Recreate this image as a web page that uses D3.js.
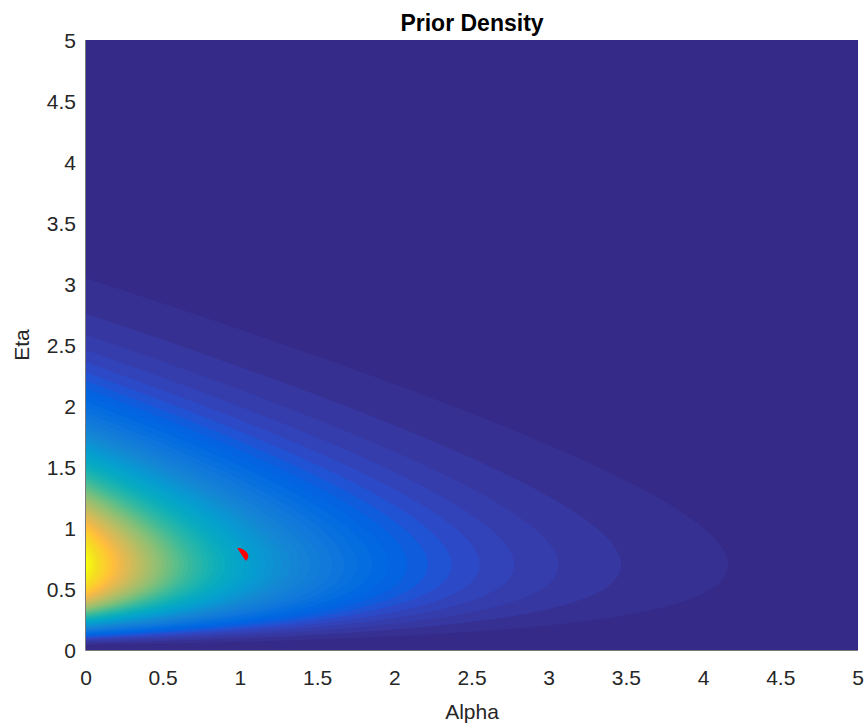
<!DOCTYPE html>
<html><head><meta charset="utf-8">
<script src="https://cdn.jsdelivr.net/npm/d3@7"></script>
<style>
body{margin:0;background:#fff}
text{font-family:"Liberation Sans",Arial,Helvetica,sans-serif;fill:#262626}
</style>
</head><body>
<svg id="chart" width="864" height="728"></svg>
<script>
// ---------------- data ----------------
const alphaDomain = [0, 5];
const etaDomain = [0, 5];
const xTickValues = [0, 0.5, 1, 1.5, 2, 2.5, 3, 3.5, 4, 4.5, 5];
const xTickLabels = ["0", "0.5", "1", "1.5", "2", "2.5", "3", "3.5", "4", "4.5", "5"];
const yTickValues = [0, 0.5, 1, 1.5, 2, 2.5, 3, 3.5, 4, 4.5, 5];
const yTickLabels = ["0", "0.5", "1", "1.5", "2", "2.5", "3", "3.5", "4", "4.5", "5"];
// prior: alpha ~ Exponential(rate), eta ~ Gamma(shape, rate)
const alphaPriorRate = [1];
const etaPriorShapeRate = [3.2, 3.15];
const contourLevelCount = [64];
// red marker outline (alpha, eta)
const markerAlpha = [0.981, 1.004, 1.027, 1.043, 1.051, 1.048, 1.036, 1.020, 1.001];
const markerEta   = [0.834, 0.832, 0.817, 0.797, 0.775, 0.752, 0.731, 0.758, 0.795];
const titleText = "Prior Density";
const xLabelText = "Alpha";
const yLabelText = "Eta";

// parula colormap (64)
const parula = [
[0.2081,0.1663,0.5292],[0.2116,0.1898,0.5777],[0.2123,0.2138,0.6270],[0.2081,0.2386,0.6771],
[0.1959,0.2645,0.7279],[0.1707,0.2919,0.7792],[0.1253,0.3242,0.8303],[0.0591,0.3598,0.8683],
[0.0117,0.3875,0.8820],[0.0060,0.4086,0.8828],[0.0165,0.4266,0.8786],[0.0329,0.4430,0.8720],
[0.0498,0.4586,0.8641],[0.0629,0.4737,0.8554],[0.0723,0.4887,0.8467],[0.0779,0.5040,0.8384],
[0.0793,0.5200,0.8312],[0.0749,0.5375,0.8263],[0.0641,0.5570,0.8240],[0.0488,0.5772,0.8228],
[0.0343,0.5966,0.8199],[0.0265,0.6137,0.8135],[0.0239,0.6287,0.8038],[0.0231,0.6418,0.7913],
[0.0228,0.6535,0.7768],[0.0267,0.6642,0.7607],[0.0384,0.6743,0.7436],[0.0590,0.6838,0.7254],
[0.0843,0.6928,0.7062],[0.1133,0.7015,0.6859],[0.1453,0.7098,0.6646],[0.1801,0.7177,0.6424],
[0.2178,0.7250,0.6193],[0.2586,0.7317,0.5954],[0.3022,0.7376,0.5712],[0.3482,0.7424,0.5473],
[0.3953,0.7459,0.5244],[0.4420,0.7481,0.5033],[0.4871,0.7491,0.4840],[0.5300,0.7491,0.4661],
[0.5709,0.7485,0.4494],[0.6099,0.7473,0.4337],[0.6473,0.7456,0.4188],[0.6834,0.7435,0.4044],
[0.7184,0.7411,0.3905],[0.7525,0.7384,0.3768],[0.7858,0.7356,0.3633],[0.8185,0.7327,0.3498],
[0.8507,0.7299,0.3360],[0.8824,0.7274,0.3217],[0.9139,0.7258,0.3063],[0.9450,0.7261,0.2886],
[0.9739,0.7314,0.2666],[0.9938,0.7455,0.2403],[0.9990,0.7653,0.2164],[0.9955,0.7861,0.1967],
[0.9880,0.8066,0.1794],[0.9789,0.8271,0.1633],[0.9697,0.8481,0.1475],[0.9626,0.8705,0.1309],
[0.9589,0.8949,0.1132],[0.9598,0.9218,0.0948],[0.9661,0.9514,0.0755],[0.9763,0.9831,0.0538]
].map(c => d3.rgb(c[0]*255, c[1]*255, c[2]*255).formatHex());

// ---------------- layout ----------------
const svg = d3.select("#chart");
const plotLeft = 86, plotRight = 858, plotTop = 40, plotBottom = 650;
const x = d3.scaleLinear().domain(alphaDomain).range([plotLeft, plotRight]);
const y = d3.scaleLinear().domain(etaDomain).range([plotBottom, plotTop]);

// density grid
const n = 400, m = 400;
const [gShape, gRate] = etaPriorShapeRate;
const lam = alphaPriorRate[0];
function dens(a, e) {
  if (e <= 0) return 0;
  return Math.exp(-lam * a) * Math.exp((gShape - 1) * Math.log(e) - gRate * e);
}
const values = new Float64Array(n * m);
for (let j = 0; j < m; j++) {
  const e = etaDomain[0] + (j + 0.5) / m * (etaDomain[1] - etaDomain[0]);
  for (let i = 0; i < n; i++) {
    const a = alphaDomain[0] + (i + 0.5) / n * (alphaDomain[1] - alphaDomain[0]);
    values[j * n + i] = dens(a, e);
  }
}
const zMax = dens(0, (gShape - 1) / gRate);
const L = contourLevelCount[0];
const thresholds = d3.range(1, L).map(i => zMax * i / L);
const contours = d3.contours().size([n, m]).thresholds(thresholds)(Array.from(values));

const proj = d3.geoTransform({
  point(px, py) {
    this.stream.point(
      x(alphaDomain[0] + px / n * (alphaDomain[1] - alphaDomain[0])),
      y(etaDomain[0] + py / m * (etaDomain[1] - etaDomain[0])));
  }
});
const path = d3.geoPath(proj);

svg.append("defs").append("clipPath").attr("id", "clip")
  .append("rect").attr("x", plotLeft).attr("y", plotTop)
  .attr("width", plotRight - plotLeft).attr("height", plotBottom - plotTop);

const g = svg.append("g").attr("clip-path", "url(#clip)");
g.append("rect").attr("x", plotLeft).attr("y", plotTop)
  .attr("width", plotRight - plotLeft).attr("height", plotBottom - plotTop)
  .attr("fill", parula[0]);
g.selectAll("path.band").data(contours).join("path")
  .attr("class", "band")
  .attr("d", path)
  .attr("fill", (d, i) => parula[Math.min(i + 1, parula.length - 1)]);

// marker
const markerPts = markerAlpha.map((a, i) => [x(a), y(markerEta[i])]);
g.append("path")
  .attr("d", d3.line().curve(d3.curveCardinalClosed.tension(0.5))(markerPts))
  .attr("fill", "#ff0000");

// axis edges
svg.append("line").attr("x1", plotLeft - 0.5).attr("x2", plotLeft - 0.5)
  .attr("y1", plotTop).attr("y2", plotBottom + 0.5).attr("stroke", "#7a7a7a").attr("stroke-width", 1);
svg.append("line").attr("x1", plotLeft - 0.5).attr("x2", plotRight)
  .attr("y1", plotBottom + 0.5).attr("y2", plotBottom + 0.5).attr("stroke", "#7a7a7a").attr("stroke-width", 1);

// tick labels
svg.append("g").selectAll("text").data(xTickValues).join("text")
  .attr("x", d => x(d)).attr("y", 685)
  .attr("text-anchor", "middle").attr("font-size", 21)
  .text((d, i) => xTickLabels[i]);
svg.append("g").selectAll("text").data(yTickValues).join("text")
  .attr("x", 76).attr("y", d => y(d) + 7.5)
  .attr("text-anchor", "end").attr("font-size", 21)
  .text((d, i) => yTickLabels[i]);

// labels
svg.append("text").attr("x", (plotLeft + plotRight) / 2).attr("y", 31)
  .attr("text-anchor", "middle").attr("font-size", 23).attr("font-weight", "bold")
  .style("fill", "#000").text(titleText);
svg.append("text").attr("x", (plotLeft + plotRight) / 2).attr("y", 719)
  .attr("text-anchor", "middle").attr("font-size", 21).text(xLabelText);
svg.append("text").attr("transform", `translate(29,${(plotTop + plotBottom) / 2}) rotate(-90)`)
  .attr("text-anchor", "middle").attr("font-size", 21).text(yLabelText);
</script>
</body></html>
